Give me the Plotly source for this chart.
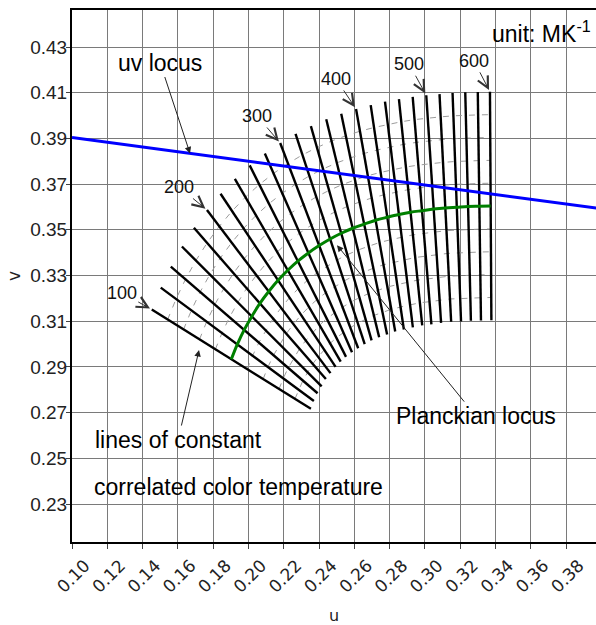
import plotly.graph_objects as go

# ---- data ----
mired = [100, 120, 140, 160, 180, 200, 220, 240, 260, 280, 300, 320, 340,
         360, 380, 400, 420, 440, 460, 480, 500, 520, 540, 560, 580, 600]
planck_u = [0.1903, 0.1937, 0.1976, 0.2019, 0.2065, 0.2115, 0.2168, 0.2223, 0.2280,
            0.2340, 0.2401, 0.2463, 0.2526, 0.2591, 0.2656, 0.2721, 0.2787, 0.2853,
            0.2919, 0.2984, 0.3050, 0.3116, 0.3181, 0.3245, 0.3309, 0.3373]
planck_v = [0.2934, 0.2999, 0.3062, 0.3121, 0.3178, 0.3230, 0.3279, 0.3323, 0.3363,
            0.3399, 0.3431, 0.3460, 0.3485, 0.3507, 0.3525, 0.3542, 0.3555, 0.3567,
            0.3577, 0.3584, 0.3591, 0.3596, 0.3599, 0.3602, 0.3603, 0.3604]
# upper ends of the isotherms (Duv = +0.05)
top_u = [0.1452, 0.1503, 0.1560, 0.1623, 0.1691, 0.1765, 0.1842, 0.1923, 0.2007,
         0.2093, 0.2180, 0.2267, 0.2354, 0.2441, 0.2526, 0.2610, 0.2693, 0.2774,
         0.2853, 0.2931, 0.3008, 0.3083, 0.3157, 0.3229, 0.3300, 0.3369]
top_v = [0.3151, 0.3247, 0.3339, 0.3427, 0.3509, 0.3587, 0.3658, 0.3723, 0.3782,
         0.3834, 0.3880, 0.3920, 0.3954, 0.3984, 0.4008, 0.4029, 0.4046, 0.4061,
         0.4072, 0.4082, 0.4089, 0.4094, 0.4099, 0.4102, 0.4103, 0.4104]
duv_step = 0.01          # spacing of dashed guide lines
duv_max = 0.05           # half length of isotherms
guide_levels = [-4, -3, -2, -1, 1, 2, 3, 4]

uvlocus_u = [0.10, 0.40]
uvlocus_v = [0.3904, 0.3592]

labelled_mired = [100, 200, 300, 400, 500, 600]
label_offsets = [(-30, -17), (-28, -23), (-23, -27), (-20, -30), (-17, -31), (-16, -31)]

x_ticks = [0.10, 0.12, 0.14, 0.16, 0.18, 0.20, 0.22, 0.24, 0.26, 0.28, 0.30, 0.32, 0.34, 0.36, 0.38]
y_ticks = [0.23, 0.25, 0.27, 0.29, 0.31, 0.33, 0.35, 0.37, 0.39, 0.41, 0.43]

FONT = "Liberation Sans, Arial, sans-serif"

fig = go.Figure()

# dashed guide lines parallel to the Planckian locus
for k in guide_levels:
    f = k * duv_step / duv_max
    gu = [p + f * (t - p) for p, t in zip(planck_u, top_u)]
    gv = [p + f * (t - p) for p, t in zip(planck_v, top_v)]
    fig.add_trace(go.Scatter(x=gu, y=gv, mode="lines", hoverinfo="skip",
                             line=dict(color="#9c9c9c", width=1, dash="6px,7px")))

# isotherms
iso_u, iso_v = [], []
for p_u, p_v, t_u, t_v in zip(planck_u, planck_v, top_u, top_v):
    iso_u += [t_u, 2 * p_u - t_u, None]
    iso_v += [t_v, 2 * p_v - t_v, None]
fig.add_trace(go.Scatter(x=iso_u, y=iso_v, mode="lines",
                         line=dict(color="black", width=2.4)))

# Planckian locus
fig.add_trace(go.Scatter(x=planck_u, y=planck_v, mode="lines",
                         line=dict(color="#008000", width=3, shape="spline")))
# uv locus
fig.add_trace(go.Scatter(x=uvlocus_u, y=uvlocus_v, mode="lines",
                         line=dict(color="#0000ff", width=3)))

annotations = []
for m, (ax, ay) in zip(labelled_mired, label_offsets):
    i = mired.index(m)
    annotations.append(dict(x=top_u[i], y=top_v[i], xref="x", yref="y", text=str(m),
                            showarrow=True, ax=ax, ay=ay, arrowhead=5, arrowsize=2.2,
                            arrowwidth=1, arrowcolor="#333", standoff=2,
                            font=dict(family=FONT, size=18, color="#111")))

big = dict(family=FONT, size=23, color="#000")
annotations += [
    dict(x=0.1669, y=0.3834, text="uv locus", showarrow=True, ax=-30, ay=-91,
         arrowhead=2, arrowsize=1.3, arrowwidth=1, arrowcolor="#222", font=big),
    dict(x=0.2502, y=0.3433, text="Planckian locus", showarrow=True, ax=139, ay=171,
         arrowhead=2, arrowsize=1.3, arrowwidth=1, arrowcolor="#222", font=big),
    dict(x=0.1720, y=0.2974, text="lines of constant", showarrow=True, ax=-21, ay=90,
         arrowhead=2, arrowsize=1.3, arrowwidth=1, arrowcolor="#222", font=big),
]
L, T, B = 72, 10, 83
W, H = 596 - L, 625 - T - B
annotations += [
    dict(x=(92 - L) / W, y=(T + H - 487) / H, xref="paper", yref="paper",
         xanchor="left", yanchor="middle", text="correlated color temperature",
         showarrow=False, font=big),
    dict(x=0.994, y=0.958, xref="paper", yref="paper", text="unit: MK<sup>-1</sup>",
         showarrow=False, xanchor="right", yanchor="middle", font=big),
]

fig.update_layout(
    width=596, height=625,
    margin=dict(l=L, r=0, t=T, b=B),
    plot_bgcolor="white", paper_bgcolor="white",
    showlegend=False,
    annotations=annotations,
    xaxis=dict(range=[0.10, 0.397], tickvals=x_ticks,
               ticktext=[f"{t:.2f}" for t in x_ticks], tickangle=-45,
               tickfont=dict(family="DejaVu Sans", size=17, color="#222"),
               ticklabelshift=13,
               showgrid=True, gridcolor="#7a7a7a", gridwidth=1,
               showline=True, linecolor="black", linewidth=2, mirror=True,
               ticks="outside", ticklen=5, tickcolor="#444",
               zeroline=False,
               title=dict(text="u", font=dict(family="DejaVu Sans", size=16, color="#222"),
                          standoff=14)),
    yaxis=dict(range=[0.2134, 0.4462], tickvals=y_ticks,
               ticktext=[f"{t:.2f}" for t in y_ticks],
               tickfont=dict(family=FONT, size=19, color="#222"),
               ticklabelstandoff=-5,
               showgrid=True, gridcolor="#7a7a7a", gridwidth=1,
               showline=True, linecolor="black", linewidth=2, mirror=False,
               ticks="outside", ticklen=4, tickcolor="#444",
               zeroline=False,
               title=dict(text="v", font=dict(family="DejaVu Sans", size=17, color="#222"),
                          standoff=5)),
)

fig.write_html("out.html")
